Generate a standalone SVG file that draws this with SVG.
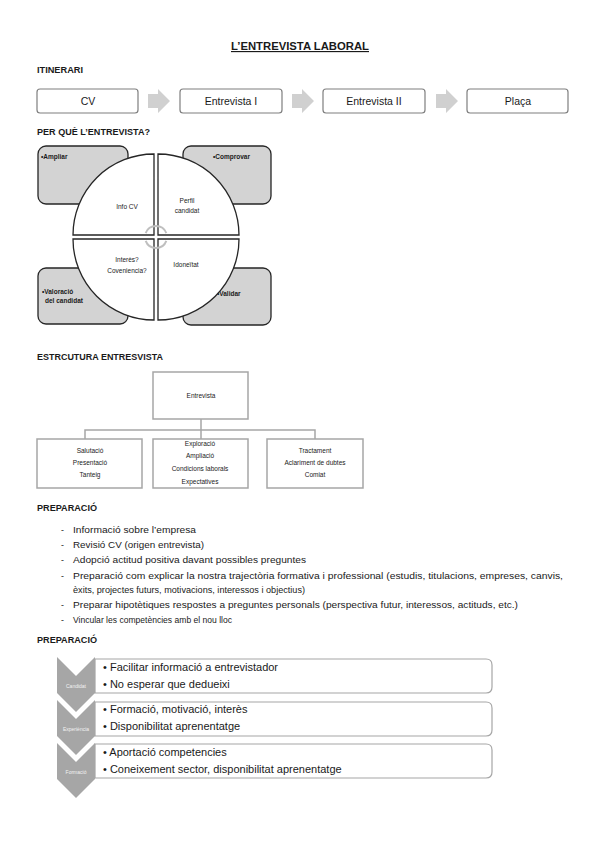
<svg xmlns="http://www.w3.org/2000/svg" width="599" height="848" viewBox="0 0 599 848">
<style>
text{font-family:"Liberation Sans",Arial,sans-serif;fill:#1a1a1a}
.h{font-weight:bold;font-size:8.8px}
.it{font-size:10.5px;text-anchor:middle}
.ibox{fill:#fff;stroke:#7f7f7f;stroke-width:1.2}
.arr{fill:#d0d0d0}
.gbox{fill:#d3d3d3;stroke:#262626;stroke-width:1.3}
.q{fill:#fff;stroke:#262626;stroke-width:1.3}
.qt{font-size:6.5px;text-anchor:middle}
.gt{font-size:6.5px;font-weight:bold}
.sbox{fill:#fff;stroke:#a6a6a6;stroke-width:1.5}
.conn{fill:none;stroke:#a6a6a6;stroke-width:1.5}
.st{font-size:6.5px;text-anchor:middle}
.li{font-size:8.8px}
.chev{fill:#a6a6a6}
.ct{font-size:5px;fill:#f2f2f2;text-anchor:middle}
.pbox{fill:#fff;stroke:#a6a6a6;stroke-width:1.2}
.pt{font-size:11px}
</style>

<text x="300" y="50" font-size="11.5" font-weight="bold" text-anchor="middle" text-decoration="underline" textLength="138" lengthAdjust="spacingAndGlyphs">L’ENTREVISTA LABORAL</text>

<text class="h" x="37" y="73" textLength="46" lengthAdjust="spacingAndGlyphs">ITINERARI</text>
<g id="cv"><rect class="ibox" x="37" y="89" width="101" height="24" rx="3"/><text class="it" x="88" y="105">CV</text></g>
<g id="entrevista1"><rect class="ibox" x="180" y="89" width="102" height="24" rx="3"/><text class="it" x="231" y="105">Entrevista I</text></g>
<g id="entrevista2"><rect class="ibox" x="323" y="89" width="102" height="24" rx="3"/><text class="it" x="374" y="105">Entrevista II</text></g>
<g id="placa"><rect class="ibox" x="467" y="89" width="101" height="24" rx="3"/><text class="it" x="518" y="105">Plaça</text></g>
<g id="itinerari-arrows">
<path class="arr" d="M148,94 L158,94 L158,89 L170,101 L158,113 L158,108 L148,108 Z"/>
<path class="arr" d="M292,94 L302,94 L302,89 L314,101 L302,113 L302,108 L292,108 Z"/>
<path class="arr" d="M436,94 L446,94 L446,89 L458,101 L446,113 L446,108 L436,108 Z"/>
</g>

<text class="h" x="37" y="135" textLength="113" lengthAdjust="spacingAndGlyphs">PER QUÈ L’ENTREVISTA?</text>
<g id="ampliar"><rect class="gbox" x="38" y="146" width="90" height="58" rx="8"/><text class="gt" x="41" y="159">•Ampliar</text></g>
<g id="comprovar"><rect class="gbox" x="183" y="146" width="88" height="58" rx="8"/><text class="gt" x="213" y="159">•Comprovar</text></g>
<g id="valoracio"><rect class="gbox" x="38" y="268" width="90" height="56" rx="8"/><text class="gt" x="42" y="294">•Valoració</text><text class="gt" x="45" y="303">del candidat</text></g>
<g id="validar"><rect class="gbox" x="183" y="268" width="88" height="57" rx="8"/><text class="gt" x="217" y="296">•Validar</text></g>
<g id="infocv"><path class="q" d="M154,235 L73,235 A81,81 0 0 1 154,154 Z"/><text class="qt" x="127" y="209">Info CV</text></g>
<g id="perfil"><path class="q" d="M158,235 L158,154 A81,81 0 0 1 239,235 Z"/><text class="qt" x="187" y="203">Perfil</text><text class="qt" x="187" y="213">candidat</text></g>
<g id="idoneitat"><path class="q" d="M158,239 L239,239 A81,81 0 0 1 158,320 Z"/><text class="qt" x="186" y="267">Idoneïtat</text></g>
<g id="interes"><path class="q" d="M154,239 L154,320 A81,81 0 0 1 73,239 Z"/><text class="qt" x="127" y="262">Interès?</text><text class="qt" x="127" y="273">Coveniencia?</text></g>
<g id="center-arcs" fill="none" stroke="#bfbfbf" stroke-width="2">
<path d="M145.7,233.2 A11,11 0 0 1 166.3,233.2"/>
<path d="M166.3,240.8 A11,11 0 0 1 145.7,240.8"/>
</g>

<text class="h" x="37" y="360" textLength="126" lengthAdjust="spacingAndGlyphs">ESTRCUTURA ENTRESVISTA</text>
<g id="structure-connectors">
<path class="conn" d="M201,419 L201,430 M85,439 L85,430 L315,430 L315,439 M201,430 L201,439"/>
</g>
<g id="entrevista"><rect class="sbox" x="153" y="372" width="95" height="47"/><text class="st" x="201" y="398">Entrevista</text></g>
<g id="salutacio"><rect class="sbox" x="37" y="439" width="105" height="49"/><text class="st" x="90" y="453">Salutació</text><text class="st" x="90" y="465">Presentació</text><text class="st" x="90" y="477">Tanteig</text></g>
<g id="exploracio"><rect class="sbox" x="153" y="439" width="95" height="49"/><text class="st" x="200" y="446">Exploració</text><text class="st" x="200" y="458">Ampliació</text><text class="st" x="200" y="471">Condicions laborals</text><text class="st" x="200" y="484">Expectatives</text></g>
<g id="tractament"><rect class="sbox" x="267" y="439" width="96" height="49"/><text class="st" x="315" y="453">Tractament</text><text class="st" x="315" y="465">Aclariment de dubtes</text><text class="st" x="315" y="477">Comiat</text></g>

<text class="h" x="37" y="511" textLength="60" lengthAdjust="spacingAndGlyphs">PREPARACIÓ</text>
<g id="preparacio-list">
<text class="li" x="61" y="533">-</text><text class="li" x="73" y="533" textLength="123" lengthAdjust="spacingAndGlyphs">Informació sobre l’empresa</text>
<text class="li" x="61" y="548">-</text><text class="li" x="73" y="548" textLength="131" lengthAdjust="spacingAndGlyphs">Revisió CV (origen entrevista)</text>
<text class="li" x="61" y="563">-</text><text class="li" x="73" y="563" textLength="233" lengthAdjust="spacingAndGlyphs">Adopció actitud positiva davant possibles preguntes</text>
<text class="li" x="61" y="579">-</text><text class="li" x="73" y="579" textLength="490" lengthAdjust="spacingAndGlyphs">Preparació com explicar la nostra trajectòria formativa i professional (estudis, titulacions, empreses, canvis,</text>
<text class="li" x="73" y="593" textLength="232" lengthAdjust="spacingAndGlyphs">èxits, projectes futurs, motivacions, interessos i objectius)</text>
<text class="li" x="61" y="608">-</text><text class="li" x="73" y="608" textLength="445" lengthAdjust="spacingAndGlyphs">Preparar hipotètiques respostes a preguntes personals (perspectiva futur, interessos, actituds, etc.)</text>
<text class="li" x="61" y="623">-</text><text class="li" x="73" y="623" textLength="159" lengthAdjust="spacingAndGlyphs">Vincular les competències amb el nou lloc</text>
</g>

<text class="h" x="37" y="643" textLength="60" lengthAdjust="spacingAndGlyphs">PREPARACIÓ</text>
<g id="candidat">
<path class="chev" d="M57,657 L76,676 L95,657 L95,693 L76,712 L57,693 Z"/>
<text class="ct" x="76" y="688">Candidat</text>
<path class="pbox" d="M95,659 L486,659 Q492,659 492,665 L492,687 Q492,693 486,693 L95,693 Z"/>
<text class="pt" x="103" y="671">• Facilitar informació a entrevistador</text>
<text class="pt" x="103" y="688">• No esperar que dedueixi</text>
</g>
<g id="experiencia">
<path class="chev" d="M57,700 L76,719 L95,700 L95,736 L76,755 L57,736 Z"/>
<text class="ct" x="76" y="731">Experiència</text>
<path class="pbox" d="M95,702 L486,702 Q492,702 492,708 L492,730 Q492,736 486,736 L95,736 Z"/>
<text class="pt" x="103" y="713">• Formació, motivació, interès</text>
<text class="pt" x="103" y="730">• Disponibilitat aprenentatge</text>
</g>
<g id="formacio">
<path class="chev" d="M57,743 L76,762 L95,743 L95,779 L76,798 L57,779 Z"/>
<text class="ct" x="76" y="774">Formació</text>
<path class="pbox" d="M95,744 L486,744 Q492,744 492,750 L492,772 Q492,778 486,778 L95,778 Z"/>
<text class="pt" x="103" y="756">• Aportació competencies</text>
<text class="pt" x="103" y="773">• Coneixement sector, disponibilitat aprenentatge</text>
</g>
</svg>
